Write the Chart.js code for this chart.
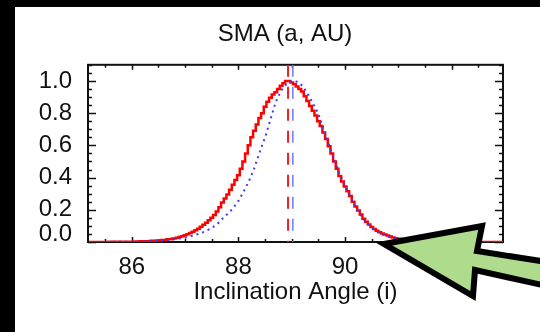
<!DOCTYPE html>
<html>
<head>
<meta charset="utf-8">
<script src="https://cdn.jsdelivr.net/npm/chart.js@4.4.1/dist/chart.umd.min.js"></script>
<style>
html, body { margin:0; padding:0; background:#000; width:540px; height:332px; overflow:hidden; }
#quadro { position:absolute; left:15px; top:7px; width:525px; height:325px; background:#fff; }
#seta { position:absolute; left:0; top:0; }
</style>
</head>
<body>
<div id="quadro"><canvas id="grafico" width="525" height="325"></canvas></div>
<svg id="seta" width="540" height="332">
  <polygon points="384,244 482,226 477,251 560,264 560,289 475,270 473,296"
           fill="#afdb8c" stroke="#000" stroke-width="6" stroke-linejoin="miter"/>
</svg>
<script>
// histograma vermelho (bins de 0.05 no miolo)
var angulosVermelho = [85.2,
    86.0, 86.1, 86.2, 86.3, 86.4, 86.5, 86.6, 86.7,
    86.8, 86.85, 86.9, 86.95, 87.0, 87.05, 87.1, 87.15, 87.2, 87.25,
    87.3, 87.35, 87.4, 87.45, 87.5, 87.55, 87.6, 87.65, 87.7, 87.75,
    87.8, 87.85, 87.9, 87.95, 88.0, 88.05, 88.1, 88.15, 88.2, 88.25,
    88.3, 88.35, 88.4, 88.45, 88.5, 88.55, 88.6, 88.65, 88.7, 88.75,
    88.8, 88.85, 88.9, 88.95, 89.0, 89.05, 89.1, 89.15, 89.2, 89.25,
    89.3, 89.35, 89.4, 89.45, 89.5, 89.55, 89.6, 89.65, 89.7, 89.75,
    89.8, 89.85, 89.9, 89.95, 90.0, 90.05, 90.1, 90.15, 90.2, 90.25,
    90.3, 90.35, 90.4, 90.45, 90.5, 90.55, 90.6, 90.65, 90.7, 90.75,
    90.8, 90.85, 90.9, 90.95, 91.0,
    91.1, 91.2, 91.3, 91.4, 91.5, 91.6,
    92.96];
var histVermelho = [0,
    0.002, 0.003, 0.004, 0.005, 0.007, 0.009, 0.013, 0.017,
    0.022, 0.026, 0.031, 0.036, 0.042, 0.048, 0.056, 0.064, 0.073, 0.083,
    0.095, 0.107, 0.12, 0.135, 0.15, 0.168, 0.19, 0.215, 0.245, 0.27,
    0.295, 0.325, 0.355, 0.385, 0.415, 0.455, 0.50, 0.55, 0.60, 0.65,
    0.69, 0.73, 0.77, 0.80, 0.84, 0.87, 0.895, 0.915, 0.93, 0.95,
    0.97, 0.985, 1.0, 1.0, 0.99, 0.98, 0.965, 0.95, 0.935, 0.905,
    0.875, 0.845, 0.815, 0.785, 0.75, 0.72, 0.68, 0.64, 0.595, 0.55,
    0.50, 0.455, 0.41, 0.375, 0.345, 0.315, 0.285, 0.25, 0.22, 0.195,
    0.17, 0.145, 0.125, 0.108, 0.093, 0.08, 0.07, 0.06, 0.053, 0.046,
    0.04, 0.034, 0.028, 0.024, 0.02,
    0.013, 0.008, 0.005, 0.003, 0.001, 0,
    0];

// curva azul pontilhada
var angulosAzul = [85.2,
    86.0, 86.1, 86.2, 86.3, 86.4, 86.5, 86.6, 86.7, 86.8, 86.9,
    87.0, 87.1, 87.2, 87.3, 87.4, 87.5, 87.6, 87.7, 87.8, 87.9,
    88.0, 88.1, 88.2, 88.3, 88.4, 88.5, 88.6, 88.7, 88.8, 88.9,
    89.0, 89.1, 89.2, 89.3, 89.4, 89.5, 89.6, 89.7, 89.8, 89.9,
    90.0, 90.1, 90.2, 90.3, 90.4, 90.5, 90.6, 90.7, 90.8, 90.9,
    91.0, 91.1, 91.2, 91.3, 91.4, 91.5, 91.6,
    92.96];
var histAzul = [0,
    0.002, 0.002, 0.003, 0.004, 0.005, 0.007, 0.009, 0.013, 0.017, 0.022,
    0.027, 0.035, 0.045, 0.055, 0.07, 0.087, 0.11, 0.145, 0.175, 0.21,
    0.255, 0.315, 0.38, 0.46, 0.56, 0.65, 0.76, 0.87, 0.94, 0.98,
    1.00, 0.995, 0.97, 0.92, 0.86, 0.795, 0.69, 0.60, 0.51, 0.42,
    0.35, 0.28, 0.215, 0.165, 0.12, 0.09, 0.065, 0.048, 0.034, 0.024,
    0.016, 0.01, 0.006, 0.004, 0.002, 0.001, 0,
    0];

var picoVermelho = 88.93;
var picoAzul = 89.02;
var xTicks = [86, 88, 90, 92];
var yTicks = [0.0, 0.2, 0.4, 0.6, 0.8, 1.0];
var xMin = 85.18, xMax = 92.96, yMin = 0, yMax = 1.1;

var fonte = 'Liberation Sans, Arial, Helvetica, sans-serif';

function pontos(xs, valores) {
    return xs.map(function(a, i) { return {x: a, y: valores[i]}; });
}
function linhaVertical(v) {
    return [{x: v, y: yMax}, {x: v, y: yMin}];
}

// moldura com ticks para dentro (estilo IDL)
const moldura = {
    id: 'moldura',
    beforeDatasetsDraw(chart) {
        const ctx = chart.ctx, a = chart.chartArea;
        const sx = chart.scales.x, sy = chart.scales.y;
        ctx.save();
        ctx.strokeStyle = '#111';
        ctx.lineWidth = 1.5;
        ctx.beginPath();
        for (let v = 85.5; v <= 92.51; v += 0.5) {
            const px = Math.round(sx.getPixelForValue(v)) + 0.5;
            const len = (Math.abs(v % 2) < 0.01) ? 5 : 3;
            ctx.moveTo(px, a.bottom); ctx.lineTo(px, a.bottom - len);
            ctx.moveTo(px, a.top); ctx.lineTo(px, a.top + len);
        }
        for (let k = 0; k <= 22; k++) {
            const py = Math.round(sy.getPixelForValue(k * 0.05)) + 0.5;
            const len = (k % 4 === 0) ? 8 : 4;
            ctx.moveTo(a.left, py); ctx.lineTo(a.left + len, py);
            ctx.moveTo(a.right, py); ctx.lineTo(a.right - len, py);
        }
        ctx.stroke();
        ctx.lineWidth = 2;
        ctx.strokeRect(a.left, a.top, a.right - a.left, a.bottom - a.top);
        ctx.restore();
    }
};

new Chart(document.getElementById('grafico'), {
    type: 'line',
    data: {
        datasets: [
            {
                label: 'azul',
                data: pontos(angulosAzul, histAzul),
                borderColor: '#3a3aff',
                borderWidth: 2,
                borderDash: [2, 4],
                pointRadius: 0,
                tension: 0,
                order: 0
            },
            {
                label: 'vermelho',
                data: pontos(angulosVermelho, histVermelho),
                borderColor: '#ff0000',
                borderWidth: 2.5,
                stepped: 'middle',
                pointRadius: 0,
                order: 1
            },
            {
                label: 'pico vermelho',
                data: linhaVertical(picoVermelho),
                borderColor: '#ff1a1a',
                borderWidth: 2,
                borderDash: [12, 10],
                pointRadius: 0,
                order: 2
            },
            {
                label: 'pico azul',
                data: linhaVertical(picoAzul),
                borderColor: '#6a78ff',
                borderWidth: 1.5,
                borderDash: [12, 10],
                pointRadius: 0,
                order: 3
            }
        ]
    },
    options: {
        responsive: false,
        animation: false,
        layout: { padding: { left: 15, right: 0, top: 0, bottom: 0 } },
        plugins: {
            legend: { display: false },
            tooltip: { enabled: false },
            title: {
                display: true,
                text: 'SMA (a, AU)',
                color: '#111',
                font: { family: fonte, size: 24, weight: 'normal' },
                padding: { top: 13, bottom: 16 }
            }
        },
        scales: {
            x: {
                type: 'linear',
                min: xMin,
                max: xMax,
                grid: { display: false },
                border: { display: false },
                afterBuildTicks: function(s) { s.ticks = xTicks.map(function(v) { return {value: v}; }); },
                afterFit: function(s) { s.height = 90; },
                ticks: {
                    color: '#111',
                    font: { family: fonte, size: 24 },
                    padding: 3,
                    maxRotation: 0,
                    autoSkip: false,
                    callback: function(v) { return String(v); }
                },
                title: {
                    display: true,
                    text: 'Inclination Angle (i)',
                    color: '#111',
                    font: { family: fonte, size: 24 },
                    padding: { top: 0, bottom: 25 }
                }
            },
            y: {
                min: yMin,
                max: yMax,
                grid: { display: false },
                border: { display: false },
                afterBuildTicks: function(s) { s.ticks = yTicks.map(function(v) { return {value: v}; }); },
                afterFit: function(s) { s.width = 58; },
                ticks: {
                    color: '#111',
                    // o rotulo 0.0 fica um pouco acima do tick no original
                    font: function(c) {
                        var baixo = c.tick && c.tick.value === 0;
                        return { family: fonte, size: 24, lineHeight: baixo ? 0.6 : 1.2 };
                    },
                    padding: 8,
                    callback: function(v) { return v === 0 ? ['0.0', ''] : v.toFixed(1); }
                }
            },
            // eixo vazio a direita so para reservar a margem
            yDireita: {
                position: 'right',
                grid: { display: false },
                border: { display: false },
                ticks: { display: false },
                afterFit: function(s) { s.width = 37; }
            }
        }
    },
    plugins: [moldura]
});
</script>
</body>
</html>
